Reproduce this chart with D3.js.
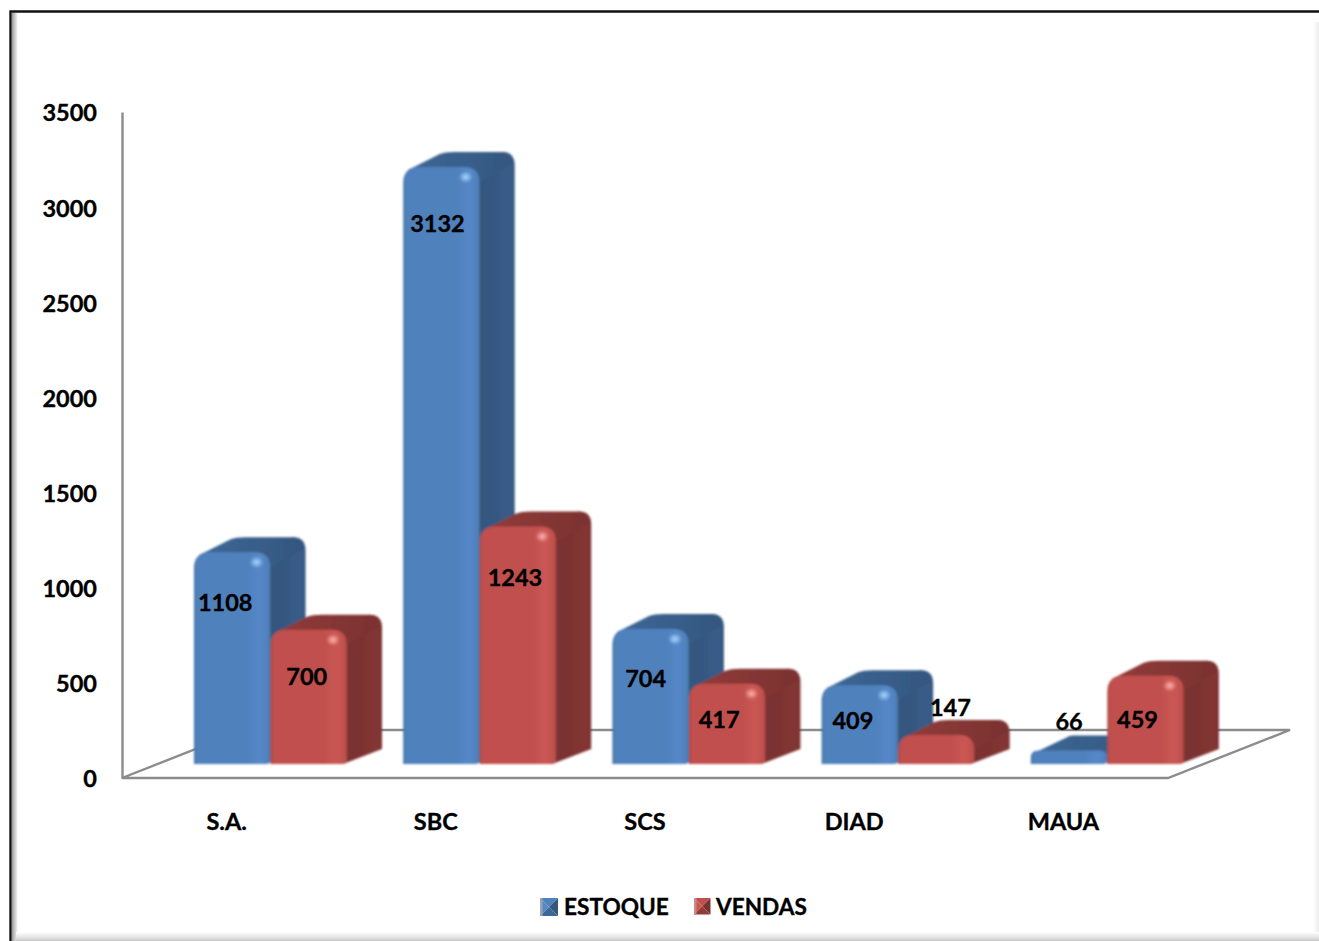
<!DOCTYPE html>
<html>
<head>
<meta charset="utf-8">
<script src="https://cdn.jsdelivr.net/npm/d3@7"></script>
<style>
  html, body { margin: 0; padding: 0; background: #fff; overflow: hidden; }
  svg { display: block; }
  text { font-family: Lato, "Open Sans", sans-serif; font-weight: 700; fill: #000; stroke: #000; stroke-width: 0.35px; }
</style>
</head>
<body>
<div id="chart"></div>
<script>
const categories = ["S.A.", "SBC", "SCS", "DIAD", "MAUA"];
const seriesNames = ["ESTOQUE", "VENDAS"];
const estoque = [1108, 3132, 704, 409, 66];
const vendas = [700, 1243, 417, 147, 459];
const tickValues = [0, 500, 1000, 1500, 2000, 2500, 3000, 3500];

// hand placed data label nudges, [dx, dy] from the top centre of the front face
const estoqueLabelNudge = [[-7, 49], [-4, 56], [-5, 49], [-7, 34], [0, -30]];
const vendasLabelNudge = [[-2, 46], [-3, 50], [-8, 35], [14, -28], [-8, 43]];

const width = 1319;
const height = 941;
const floorFront = 778;
const floorLeft = 122;
const floorRight = 1168;
const floorDepth = { x: 122, y: 48 };
const barLift = 14; // bars stand a bit behind the front edge of the floor
const barDepth = { x: 35, y: 15 };
const barShift = 72; // first bar starts this far into its band
const barWidth = 76.5;
const fontSize = 23.5;
const legendFontSize = 22.6;

const palette = {
  ESTOQUE: { front: "#4f81bd", light: "#5688c8", dark: "#47759f", side: "#34567f", sideLight: "#395d89", top: "#3d6896", glow: "#a9d8ff", edge: "#97a3b2" },
  VENDAS: { front: "#c0504d", light: "#cb5754", dark: "#ac4845", side: "#7a3230", sideLight: "#843634", top: "#923c3a", glow: "#ffb3ae", edge: "#c98986" },
};

const svg = d3.select("#chart").append("svg").attr("width", width).attr("height", height);
const defs = svg.append("defs");

const xScale = d3.scaleBand().domain(categories).range([floorLeft, floorRight]);
const yScale = d3.scaleLinear().domain([0, 3500]).range([floorFront, 112]);
const seriesScale = d3.scaleBand().domain(seriesNames).range([0, barWidth * 2]);

function addGradient(id, stops, vertical) {
  const g = defs.append("linearGradient").attr("id", id)
    .attr("x1", 0).attr("y1", 0)
    .attr("x2", vertical ? 0 : 1).attr("y2", vertical ? 1 : 0);
  stops.forEach(([o, c]) => {
    g.append("stop").attr("offset", o).attr("stop-color", c);
  });
}

seriesNames.forEach((name) => {
  const c = palette[name];
  addGradient(`front-${name}`, [[0, c.dark], [0.04, c.front], [0.7, c.front], [0.86, c.light], [0.97, c.front], [1, c.dark]]);
  addGradient(`side-${name}`, [[0, c.side], [0.5, c.side], [0.9, c.sideLight], [1, c.side]]);
  addGradient(`top-${name}`, [[0, c.top], [1, c.side]]);
  const glow = defs.append("radialGradient").attr("id", `glow-${name}`);
  glow.append("stop").attr("offset", 0).attr("stop-color", c.glow);
  glow.append("stop").attr("offset", 1).attr("stop-color", c.glow).attr("stop-opacity", 0);
});

addGradient("shade-left", [[0, "#9a9a9a"], [1, "#fff"]]);
addGradient("shade-right", [[0, "#fff"], [1, "#ececec"]]);
addGradient("shade-bottom", [[0, "#fff"], [0.7, "#dedede"], [1, "#c4c4c4"]], true);

defs.append("filter").attr("id", "soft").attr("x", "-5%").attr("y", "-5%").attr("width", "110%").attr("height", "110%")
  .append("feGaussianBlur").attr("stdDeviation", 0.8);

// frame: black on top and left, soft grey inner shadow on the other sides
svg.append("rect").attr("x", 12).attr("y", 13).attr("width", 6).attr("height", height - 13).attr("fill", "url(#shade-left)");
svg.append("rect").attr("x", 1313).attr("y", 22).attr("width", 6).attr("height", height - 22).attr("fill", "url(#shade-right)");
svg.append("rect").attr("x", 16).attr("y", 932).attr("width", width - 16).attr("height", 9).attr("fill", "url(#shade-bottom)");
svg.append("path")
  .attr("d", `M10.5,${height} V11.5 H${width}`)
  .attr("fill", "none").attr("stroke", "#111").attr("stroke-width", 2.4);

// floor of the 3d plot
const floorPath = d3.path();
floorPath.moveTo(floorLeft, floorFront);
floorPath.lineTo(floorLeft + floorDepth.x, floorFront - floorDepth.y);
floorPath.lineTo(floorRight + floorDepth.x, floorFront - floorDepth.y);
floorPath.lineTo(floorRight, floorFront);
floorPath.closePath();
svg.append("path").attr("d", floorPath.toString())
  .attr("fill", "none").attr("stroke", "#8c8c8c").attr("stroke-width", 2.4);

const yAxis = svg.append("g")
  .attr("transform", `translate(${floorLeft},0)`)
  .call(d3.axisLeft(yScale).tickValues(tickValues).tickSize(0).tickPadding(25).tickFormat(d3.format("d")));
yAxis.select(".domain").attr("stroke", "#8c8c8c").attr("stroke-width", 2.4);
yAxis.selectAll("text").attr("font-size", fontSize).attr("dy", "0.38em")
  .style("font-family", "Lato, sans-serif").style("font-weight", 700);

const xAxis = svg.append("g")
  .attr("transform", `translate(0,${floorFront})`)
  .call(d3.axisBottom(xScale).tickSize(0).tickPadding(35));
xAxis.select(".domain").remove();
xAxis.selectAll("text").attr("font-size", fontSize)
  .style("font-family", "Lato, sans-serif").style("font-weight", 700);

function barX(category, name) {
  return xScale(category) + barShift + seriesScale(name);
}

function drawBar(layer, category, name, value) {
  const x = barX(category, name);
  const w = seriesScale.bandwidth();
  const bottom = floorFront - barLift;
  const top = yScale(value) - barLift - 1;
  const h = bottom - top;
  const r = Math.min(16, h * 0.55);
  const dx = barDepth.x;
  const dy = Math.min(barDepth.y, h + 2);

  // side face
  const side = d3.path();
  side.moveTo(x + w - 4, bottom);
  side.lineTo(x + w + dx, bottom - dy);
  side.lineTo(x + w + dx, top - dy + r * 0.8);
  side.quadraticCurveTo(x + w + dx, top - dy, x + w + dx - r * 0.8, top - dy);
  side.lineTo(x + w - r, top);
  side.closePath();
  layer.append("path").attr("d", side.toString()).attr("fill", `url(#side-${name})`);

  // top face
  const topFace = d3.path();
  topFace.moveTo(x + r * 0.3, top + 3);
  topFace.lineTo(x + dx + r * 0.1, top - dy + 2);
  topFace.quadraticCurveTo(x + dx + r * 0.4, top - dy, x + dx + r, top - dy);
  topFace.lineTo(x + w + dx - r * 0.8, top - dy);
  topFace.quadraticCurveTo(x + w + dx - 2, top - dy, x + w + dx - 1, top - dy + r * 0.7);
  topFace.lineTo(x + w - 2, top + r);
  topFace.closePath();
  layer.append("path").attr("d", topFace.toString()).attr("fill", `url(#top-${name})`);

  // front face
  const front = d3.path();
  front.moveTo(x, bottom);
  front.lineTo(x, top + r);
  front.quadraticCurveTo(x, top, x + r, top);
  front.lineTo(x + w - r, top);
  front.quadraticCurveTo(x + w, top, x + w, top + r);
  front.lineTo(x + w, bottom - 2);
  front.quadraticCurveTo(x + w - 2, bottom, x + w - 8, bottom);
  front.closePath();
  layer.append("path").attr("d", front.toString()).attr("fill", `url(#front-${name})`);

  // rounded highlight along the top of the front face
  if (h > 30) {
    layer.append("ellipse")
      .attr("cx", x + w - 14).attr("cy", top + 10)
      .attr("rx", 7).attr("ry", 6)
      .attr("fill", `url(#glow-${name})`);
  }
}

const barsLayer = svg.append("g").attr("filter", "url(#soft)");
categories.forEach((category, i) => {
  drawBar(barsLayer, category, "ESTOQUE", estoque[i]);
  drawBar(barsLayer, category, "VENDAS", vendas[i]);
});

// data labels sit above everything
const labelRows = [
  { name: "ESTOQUE", values: estoque, nudges: estoqueLabelNudge },
  { name: "VENDAS", values: vendas, nudges: vendasLabelNudge },
];
labelRows.forEach((row) => {
  svg.append("g").selectAll("text")
    .data(row.values)
    .join("text")
    .attr("x", (d, i) => barX(categories[i], row.name) + seriesScale.bandwidth() / 2 + row.nudges[i][0])
    .attr("y", (d, i) => yScale(d) - barLift + row.nudges[i][1])
    .attr("dy", "0.36em")
    .attr("text-anchor", "middle")
    .attr("font-size", fontSize)
    .text((d) => d);
});

// legend
const legendItems = [
  { name: "ESTOQUE", x: 540, size: 18, textX: 24 },
  { name: "VENDAS", x: 694, size: 16.5, textX: 22 },
];
const legendY = 898;
legendItems.forEach((item) => {
  const c = palette[item.name];
  const g = svg.append("g").attr("transform", `translate(${item.x},${legendY})`);
  const s = item.size;
  const m = s / 2;
  // four triangles meeting in an x, like the bevelled excel swatch
  const faces = [
    { pts: [[0, 0], [s, 0], [m, m]], fill: c.front },
    { pts: [[0, 0], [m, m], [0, s]], fill: c.light },
    { pts: [[s, 0], [s, s], [m, m]], fill: c.side },
    { pts: [[0, s], [s, s], [m, m]], fill: c.top },
  ];
  g.selectAll("polygon").data(faces).join("polygon")
    .attr("points", (d) => d.pts.join(" "))
    .attr("fill", (d) => d.fill);
  g.append("rect").attr("x", 0).attr("y", 0).attr("width", 2.5).attr("height", s).attr("fill", c.edge);
  g.append("text")
    .attr("x", item.textX).attr("y", 9)
    .attr("dy", "0.36em")
    .attr("font-size", legendFontSize)
    .text(item.name);
});
</script>
</body>
</html>
